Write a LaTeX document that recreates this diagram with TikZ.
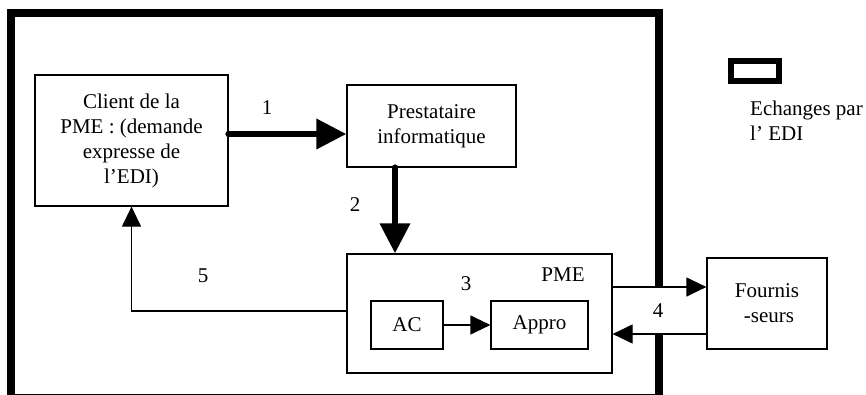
\documentclass[tikz,border=0pt]{standalone}
\usepackage{fontspec}
\setmainfont{Liberation Serif}
\usetikzlibrary{arrows.meta}

\begin{document}
\begin{tikzpicture}[x=1pt,y=-1pt,
        box/.style={draw, line width=1.2pt, align=center, inner sep=2pt},
        big/.style={line width=6.5pt, line cap=round, -{Triangle[length=30pt,width=29pt]}},
        small/.style={line width=1.2pt, -{Triangle[length=20pt,width=19pt]}},
        lbl/.style={inner sep=1pt},
        font=\fontsize{21}{25}\selectfont]
        \useasboundingbox (0,0) rectangle (866,395);

        % cadre
        \draw[line width=8pt] (10.5,13.3) rectangle (659,398);

        \node[box, minimum width=193pt, minimum height=131pt] (client) at (131.5,140.5) {Client de la\\PME : (demande\\expresse de\\l’EDI)};
        \node[box, minimum width=169pt, minimum height=82pt]  (prest)  at (431.5,126)   {Prestataire\\informatique};
        \node[box, minimum width=265pt, minimum height=119pt] (pme)    at (479.5,313.5) {};
        \node[box, minimum width=72pt,  minimum height=48pt]  (ac)     at (407,325)     {AC};
        \node[box, minimum width=97pt,  minimum height=48pt]  (appro)  at (539.5,325)   {Appro};
        \node[box, minimum width=120pt, minimum height=91pt]  (four)   at (767,303.5)   {Fournis\\\hspace*{4pt}-seurs};

        \node[lbl] (pmelbl) at (563,275) {PME};

        % coupure du cadre sous le 4
        \node[lbl, fill=white, minimum width=11pt, minimum height=45pt] (n4) at (658,310.5) {4};

        \draw[big] ([yshift=6.5pt]client.east) -- ([yshift=-8pt]prest.west);
        \draw[big] ([xshift=-36.5pt]prest.south) -- ([xshift=-36.5pt]prest.south |- pme.north);
        \draw[small] ([yshift=2.5pt]pme.west) -| (client.south);
        \draw[small] (ac) -- (appro);
        \draw[small] ([yshift=26.5pt]pme.east) -- ([yshift=26.5pt]pme.east -| four.west);
        \draw[small] ([yshift=-30.5pt]four.west) -- ([yshift=-30.5pt]four.west -| pme.east);

        \node[lbl] (n1) at (267,108) {1};
        \node[lbl] (n2) at (355,205) {2};
        \node[lbl] (n3) at (466,284) {3};
        \node[lbl] (n5) at (203,276) {5};

        % legende
        \draw[line width=6pt] (730.5,61) rectangle (779,81);
        \node[anchor=north west, align=left, inner sep=0pt] (leg) at (750,101) {Echanges par\\l’ EDI};

    \end{tikzpicture}
\end{document}
